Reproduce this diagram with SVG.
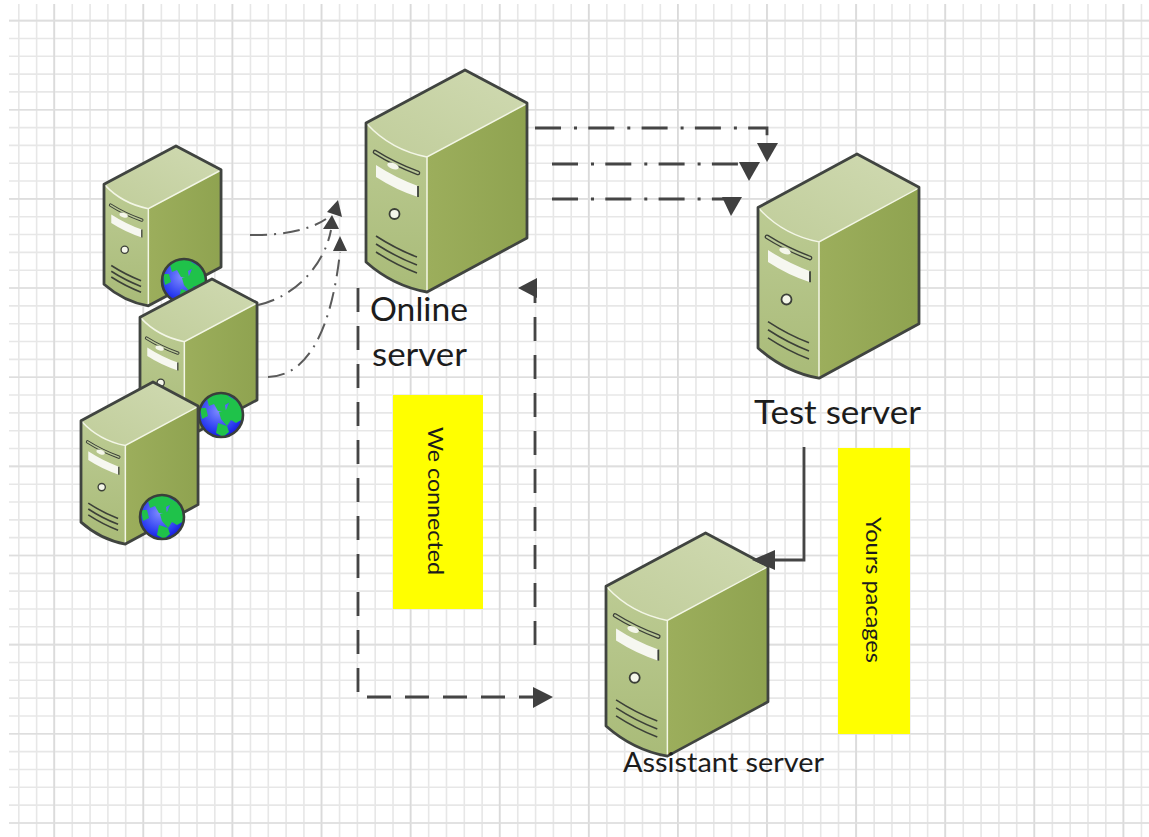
<svg xmlns="http://www.w3.org/2000/svg" xmlns:xlink="http://www.w3.org/1999/xlink" width="1149" height="837" viewBox="0 0 1149 837">
<style>
.gv{stroke-width:833;fill:none}
.gh{stroke-width:1140;fill:none}
.ol{stroke:#404440;stroke-width:2.8;stroke-linejoin:round;fill:none;vector-effect:non-scaling-stroke}
.hl{stroke:#f3f6e6;stroke-width:1.5;fill:none;vector-effect:non-scaling-stroke}
.vent{stroke:#3c4038;stroke-width:1.6;fill:none;vector-effect:non-scaling-stroke}
.dd{stroke:#454545;stroke-width:2.8;fill:none;stroke-dasharray:26 13 3 11.3}
.dc{stroke:#5a5a5a;stroke-width:2;fill:none;stroke-dasharray:17 7 2 7}
.ld{stroke:#454545;stroke-width:2.8;fill:none;stroke-dasharray:24 14}
.sl{stroke:#454545;stroke-width:2.8;fill:none}
.ah{fill:#404040}
.lbl{font-family:Lato,"Liberation Sans",sans-serif;fill:#1c1c1c}
.note{fill:#ffff00}
.land{fill:#1fc24a}
</style>
<defs>
<linearGradient id="gTop" x1="0" y1="1" x2="1" y2="0"><stop offset="0" stop-color="#c0cd9a"/><stop offset="1" stop-color="#d0dab2"/></linearGradient>
<linearGradient id="gFront" x1="0" y1="0" x2="0" y2="1"><stop offset="0" stop-color="#c2d09c"/><stop offset="1" stop-color="#a9bb78"/></linearGradient>
<linearGradient id="gSide" x1="0" y1="0" x2="1" y2="0"><stop offset="0" stop-color="#9cae5c"/><stop offset="1" stop-color="#8fa350"/></linearGradient>
<radialGradient id="gGlobe" cx="0.45" cy="0.4" r="0.65"><stop offset="0" stop-color="#7f8cff"/><stop offset="0.7" stop-color="#2a3cf0"/><stop offset="1" stop-color="#1010d8"/></radialGradient>
<g id="server">
<path d="M0 53L99 0L161 33V168L61 222Q27 216 0 192Z" fill="url(#gFront)"/>
<path d="M0 53L99 0L161 33L61 87Q25 80 0 53Z" fill="url(#gTop)"/>
<path d="M61 87L161 33V168L61 222Z" fill="url(#gSide)"/>
<path class="hl" d="M1 54Q25 80 61 87L160 34M61 87V221"/>
<path d="M9 82Q28 94 52 103" stroke="#3c4038" stroke-width="4.6" stroke-linecap="round" fill="none"/>
<path d="M9 82Q28 94 52 103" stroke="#b9c896" stroke-width="2" stroke-linecap="round" fill="none"/>
<ellipse cx="27" cy="96" rx="6" ry="3" fill="#f4f6ea" transform="rotate(20 27 96)"/>
<path d="M10 95Q30 108 52 116V127Q30 120 10 107Z" fill="#f6f7f0"/>
<path d="M52 116V127" stroke="#3c4038" stroke-width="1.8" fill="none"/>
<circle cx="28.500" cy="144" r="5" fill="#f4f6ea" stroke="#3c4038" stroke-width="1.8"/>
<path class="vent" d="M10 166Q30 179 51 187M10 174Q30 187 51 195M10 182Q30 195 51 203"/>
<path class="ol" d="M0 53L99 0L161 33V168L61 222Q27 216 0 192Z"/>
</g>
<g id="globe">
<circle r="22" fill="url(#gGlobe)"/>
<path class="land" d="M-14 -16Q-4 -23 6 -21L11 -14L4 -10L5 -3L-3 -4L-7 -11L-12 -9Z"/>
<path class="land" d="M4 -20Q15 -17 20 -8L22 4L15 8L10 5L6 11L0 4L-2 -3L5 -5L8 -12Z"/>
<path class="land" d="M-3 8L6 11L8 17L2 22L-5 18Z"/>
<path class="land" d="M-21 -7L-15 -7L-13 1L-19 4Z"/>
<circle r="22" fill="none" stroke="#3a3f3a" stroke-width="2.6"/>
</g>
</defs>
<rect width="1149" height="837" fill="#ffffff"/>
<g id="grid">
<path class="gv" stroke="#e7e7e7" stroke-dasharray="1.6 16.22" d="M18 420.500H1149"/>
<path class="gh" stroke="#e7e7e7" stroke-dasharray="1.6 16.23" d="M579 19.800V837"/>
<path class="gv" stroke="#dadada" stroke-dasharray="1.6 87.5" d="M53.300 420.500H1149"/>
<path class="gh" stroke="#dedede" stroke-dasharray="1.6 87.55" d="M579 19.800V837"/>
</g>
<g id="client-1"><use xlink:href="#server" href="#server" transform="translate(104 146) scale(.727 .72)"/><use href="#globe" xlink:href="#globe" transform="translate(184 281)"/></g>
<g id="client-2"><use href="#server" xlink:href="#server" transform="translate(140 279) scale(.727 .72)"/><use href="#globe" xlink:href="#globe" transform="translate(221 415)"/></g>
<g id="client-3"><use href="#server" xlink:href="#server" transform="translate(81 382) scale(.727 .73)"/><use href="#globe" xlink:href="#globe" transform="translate(162 517)"/></g>
<g id="online-server"><use href="#server" xlink:href="#server" transform="translate(366 70)"/>
<text class="lbl" font-size="33" x="370" y="321" textLength="98" lengthAdjust="spacingAndGlyphs">Online</text><text class="lbl" font-size="33" x="372" y="366" textLength="95" lengthAdjust="spacingAndGlyphs">server</text></g>
<g id="test-server"><use href="#server" xlink:href="#server" transform="translate(758 154) scale(1 1.01)"/>
<text class="lbl" font-size="33" x="754" y="424" textLength="167" lengthAdjust="spacingAndGlyphs">Test server</text></g>
<g id="assistant-server"><use href="#server" xlink:href="#server" transform="translate(606 533) scale(1.006 1.005)"/>
<text class="lbl" font-size="27" x="623" y="772" textLength="201" lengthAdjust="spacingAndGlyphs">Assistant server</text></g>
<g id="note-connected"><rect class="note" x="393" y="395" width="90" height="214"/>
<text class="lbl" font-size="22" transform="translate(428 427) rotate(90)" textLength="148" lengthAdjust="spacingAndGlyphs">We connected</text></g>
<g id="note-packages"><rect class="note" x="838" y="448" width="72" height="286"/>
<text class="lbl" font-size="22" transform="translate(866 517) rotate(90)" textLength="146" lengthAdjust="spacingAndGlyphs">Yours pacages</text></g>
<g id="connectors">
<path class="dd" d="M535 128H767V143"/>
<path class="ah" d="M757 143H778L767 162Z"/>
<path class="dd" d="M552 164H742"/>
<path class="ah" d="M739 162H760L749 181Z"/>
<path class="dd" d="M552 199H725"/>
<path class="ah" d="M722 197H742L731 216Z"/>
<path class="dc" d="M250 235C280 236 310 230 326 219"/>
<path class="ah" d="M327 212L342 217L338 200Z"/>
<path class="dc" d="M258 305C298 296 325 262 331 230"/>
<path class="ah" d="M323 229H339L332 215Z"/>
<path class="dc" d="M268 377C310 376 332 325 340 252"/>
<path class="ah" d="M333 251H347L340 236Z"/>
<path class="ld" d="M358 288V697H535"/>
<path class="ah" d="M533 687L553 697L533 708Z"/>
<path class="ld" d="M535 645V290H537"/>
<path class="ah" d="M537 278V298L518 288Z"/>
<path class="sl" d="M804 447V560H772"/>
<path class="ah" d="M775 550V570L752 560Z"/>
</g>
</svg>
